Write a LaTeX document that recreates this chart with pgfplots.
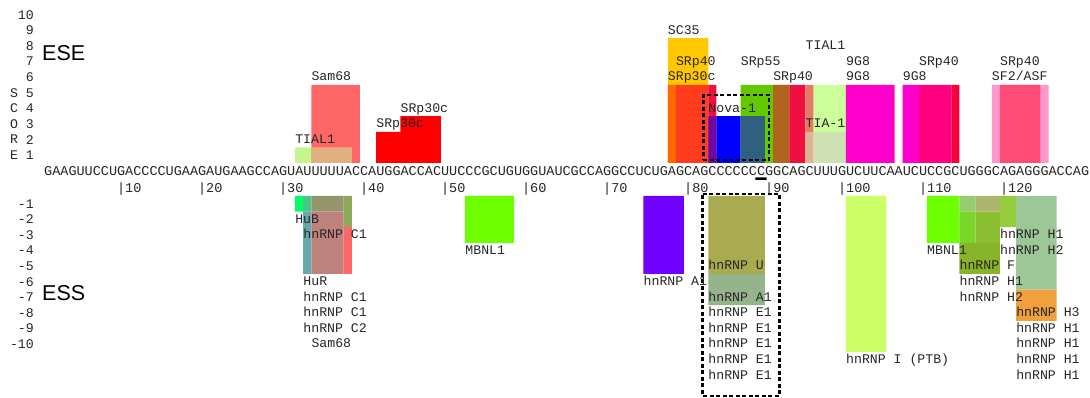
\documentclass[border=0pt]{standalone}
\usepackage{pgfplots}
\pgfplotsset{compat=1.18}
\usepackage{fontspec}
\setmainfont{Liberation Sans}
\newfontfamily\mono{Liberation Mono}
\newcommand{\lf}{\mono\fontsize{13.2}{14}\selectfont}
\newcommand{\sqf}{\mono\fontsize{13.5}{14}\selectfont}
% ESE colours
\definecolor{tialg}{RGB}{198,245,140}
\definecolor{samr}{RGB}{255,102,102}
\definecolor{tanA}{RGB}{226,176,128}
\definecolor{redA}{RGB}{255,0,0}
\definecolor{scy}{RGB}{255,200,0}
\definecolor{orng}{RGB}{255,105,0}
\definecolor{redor}{RGB}{255,60,30}
\definecolor{crim}{RGB}{240,16,64}
\definecolor{purp}{RGB}{112,8,160}
\definecolor{blueA}{RGB}{0,0,255}
\definecolor{steel}{RGB}{48,96,128}
\definecolor{srpg}{RGB}{100,200,0}
\definecolor{brownA}{RGB}{176,100,30}
\definecolor{salm}{RGB}{230,122,100}
\definecolor{tanB}{RGB}{220,180,145}
\definecolor{tialgB}{RGB}{204,255,153}
\definecolor{pale}{RGB}{205,225,178}
\definecolor{mag}{RGB}{255,0,204}
\definecolor{dpink}{RGB}{255,0,128}
\definecolor{redB}{RGB}{245,0,60}
\definecolor{lpink}{RGB}{255,153,204}
\definecolor{pinkred}{RGB}{255,75,120}
% ESS colours
\definecolor{hub}{RGB}{0,255,100}
\definecolor{tg}{RGB}{70,200,135}
\definecolor{tealA}{RGB}{100,170,170}
\definecolor{olg}{RGB}{150,150,110}
\definecolor{rosy}{RGB}{190,130,125}
\definecolor{olgr}{RGB}{140,170,90}
\definecolor{mbnl}{RGB}{110,255,0}
\definecolor{aone}{RGB}{112,0,255}
\definecolor{oliv}{RGB}{170,170,80}
\definecolor{ggreen}{RGB}{150,180,140}
\definecolor{ptb}{RGB}{204,255,102}
\definecolor{rA}{RGB}{150,205,110}
\definecolor{rB}{RGB}{175,180,110}
\definecolor{rC}{RGB}{120,215,40}
\definecolor{rD}{RGB}{140,190,50}
\definecolor{rE}{RGB}{135,180,40}
\definecolor{rF}{RGB}{150,205,60}
\definecolor{sage}{RGB}{155,200,150}
\definecolor{orgA}{RGB}{240,160,60}
% rectangle: colour, x0, x1, y0, y1
\newcommand{\R}[5]{\addplot[draw=none,fill=#1,forget plot] coordinates {(#2,#4) (#3,#4) (#3,#5) (#2,#5) (#2,#4)};}
\newcommand{\labE}[3]{\node[anchor=base west,inner sep=0pt,font=\lf,text=black!85] at (axis cs:#1,#2-0.74) {#3};}
\newcommand{\labS}[3]{\node[anchor=base west,inner sep=0pt,font=\lf,text=black!85] at (axis cs:#1,-#2+0.26) {#3};}
\newcommand{\tk}[2]{\node[anchor=base west,inner sep=0pt,font=\sqf,text=black!85] at (axis cs:#1,-1.86) {#2};}
\pgfplotsset{myax/.style={scale only axis, width=1045pt, xmin=0, xmax=129, clip=false,
  axis line style={draw=none}, xtick=\empty, tick style={draw=none}, major tick length=0pt,
  no markers,
  yticklabel style={font=\lf, inner sep=0pt, xshift=-10pt, anchor=east, text=black!85}}}
\begin{document}
\begin{tikzpicture}
\useasboundingbox (0,0) rectangle (1090pt,398pt);
% ---------------- ESE ----------------
\begin{axis}[myax, height=156pt, ymin=0, ymax=10, at={(44pt,235pt)}, anchor=south west,
  ytick={0.5,1.5,2.5,3.5,4.5,5.5,6.5,7.5,8.5,9.5},
  yticklabels={1,2,3,4,5,6,7,8,9,10}]
\R{samr}{33}{39}{0}{5}
\R{tialg}{31}{33}{0}{1}
\R{tanA}{33}{38}{0}{1}
\R{redA}{41}{47}{0}{2}
\R{redA}{44}{49}{0}{3}
\R{scy}{77}{82}{0}{8}
\R{orng}{77}{78}{0}{5}
\R{redor}{78}{82}{0}{5}
\R{crim}{82}{83}{0}{5}
\R{srpg}{86}{92}{0}{5}
\R{purp}{82}{83}{0}{3}
\R{blueA}{83}{86}{0}{3}
\R{steel}{86}{89}{0}{3}
\R{brownA}{90}{92}{0}{5}
\R{crim}{92}{94}{0}{5}
\R{salm}{94}{95}{2}{5}
\R{tanB}{94}{95}{0}{2}
\R{tialgB}{95}{99}{2}{5}
\R{pale}{95}{99}{0}{2}
\R{mag}{99}{105}{0}{5}
\R{mag}{106}{108}{0}{5}
\R{dpink}{108}{112}{0}{5}
\R{redB}{112}{113}{0}{5}
\R{lpink}{117}{124}{0}{5}
\R{pinkred}{118}{123}{0}{5}
% Nova-1 dashed box and marker bar
\addplot[draw=black, line width=2.2pt, dash pattern=on 4pt off 2.5pt, forget plot]
  coordinates {(81.4,0.19) (89.5,0.19) (89.5,4.36) (81.4,4.36) (81.4,0.19)};
\R{black}{87.8}{89.2}{-1.09}{-0.92}
% labels
\labE{31}{2}{TIAL1}
\labE{33}{6}{Sam68}
\labE{41}{3}{SRp30c}
\labE{44}{4}{SRp30c}
\labE{77}{9}{SC35}
\labE{78}{7}{SRp40}
\labE{77}{6}{SRp30c}
\labE{82}{4}{Nova-1}
\labE{86}{7}{SRp55}
\labE{90}{6}{SRp40}
\labE{94}{8}{TIAL1}
\labE{94}{3}{TIA-1}
\labE{99}{7}{9G8}
\labE{99}{6}{9G8}
\labE{106}{6}{9G8}
\labE{108}{7}{SRp40}
\labE{118}{7}{SRp40}
\labE{117}{6}{SF2/ASF}
% axis text
\node[anchor=west,inner sep=0pt,font=\fontsize{21.5}{22}\selectfont] at (axis cs:-0.25,7.05) {ESE};
\node[font=\lf,text=black!85] at (axis cs:-3.7,4.5) {S};
\node[font=\lf,text=black!85] at (axis cs:-3.7,3.5) {C};
\node[font=\lf,text=black!85] at (axis cs:-3.7,2.5) {O};
\node[font=\lf,text=black!85] at (axis cs:-3.7,1.5) {R};
\node[font=\lf,text=black!85] at (axis cs:-3.7,0.5) {E};
\node[anchor=base west,inner sep=0pt,font=\sqf,text=black!85] at (axis cs:0,-0.83)
  {GAAGUUCCUGACCCCUGAAGAUGAAGCCAGUAUUUUUACCAUGGACCACUUCCCGCUGUGGUAUCGCCAGGCCUCUGAGCAGCCCCCCCGGCAGCUUUGUCUUCAAUCUCCGCUGGGCAGAGGGACCAG};
\tk{9}{|10}\tk{19}{|20}\tk{29}{|30}\tk{39}{|40}\tk{49}{|50}\tk{59}{|60}
\tk{69}{|70}\tk{79}{|80}\tk{89}{|90}\tk{98}{|100}\tk{108}{|110}\tk{118}{|120}
\end{axis}
% ---------------- ESS ----------------
\begin{axis}[myax, height=199.68pt, ymin=-12.8, ymax=0, at={(44pt,202pt)}, anchor=north west,
  ytick={-0.5,-1.5,-2.5,-3.5,-4.5,-5.5,-6.5,-7.5,-8.5,-9.5},
  yticklabels={-1,-2,-3,-4,-5,-6,-7,-8,-9,-10}]
\R{hub}{31}{32}{-1}{0}
\R{tg}{32}{33}{-1}{0}
\R{tealA}{32}{33}{-5}{-1}
\R{olg}{33}{37}{-1}{0}
\R{rosy}{33}{37}{-5}{-1}
\R{olgr}{37}{38}{-2}{0}
\R{samr}{37}{38}{-5}{-2}
\R{mbnl}{52}{58}{-3}{0}
\R{aone}{74}{79}{-5}{0}
\R{oliv}{82}{89}{-5}{0}
\R{ggreen}{82}{89}{-7}{-5}
\R{ptb}{99}{104}{-10}{0}
\R{mbnl}{109}{113}{-3}{0}
\R{rA}{113}{115}{-1}{0}
\R{rB}{115}{118}{-1}{0}
\R{rC}{113}{115}{-3}{-1}
\R{rD}{115}{118}{-3}{-1}
\R{rE}{113}{118}{-5}{-3}
\R{rF}{118}{120}{-2}{0}
\R{sage}{120}{125}{-6}{0}
\R{orgA}{120}{125}{-8}{-6}
\addplot[draw=black, line width=2.2pt, dash pattern=on 4pt off 2.5pt, forget plot]
  coordinates {(81.3,0.13) (90.8,0.13) (90.8,-12.8) (81.3,-12.8) (81.3,0.13)};
\labS{31}{2}{HuB}
\labS{32}{3}{hnRNP C1}
\labS{32}{6}{HuR}
\labS{32}{7}{hnRNP C1}
\labS{32}{8}{hnRNP C1}
\labS{32}{9}{hnRNP C2}
\labS{33}{10}{Sam68}
\labS{52}{4}{MBNL1}
\labS{74}{6}{hnRNP A1}
\labS{82}{5}{hnRNP U}
\labS{82}{7}{hnRNP A1}
\labS{82}{8}{hnRNP E1}
\labS{82}{9}{hnRNP E1}
\labS{82}{10}{hnRNP E1}
\labS{82}{11}{hnRNP E1}
\labS{82}{12}{hnRNP E1}
\labS{99}{11}{hnRNP I (PTB)}
\labS{109}{4}{MBNL1}
\labS{118}{3}{hnRNP H1}
\labS{118}{4}{hnRNP H2}
\labS{113}{5}{hnRNP F}
\labS{113}{6}{hnRNP H1}
\labS{113}{7}{hnRNP H2}
\labS{120}{8}{hnRNP H3}
\labS{120}{9}{hnRNP H1}
\labS{120}{10}{hnRNP H1}
\labS{120}{11}{hnRNP H1}
\labS{120}{12}{hnRNP H1}
\node[anchor=west,inner sep=0pt,font=\fontsize{21.5}{22}\selectfont] at (axis cs:-0.25,-6.22) {ESS};
\end{axis}
\end{tikzpicture}
\end{document}
